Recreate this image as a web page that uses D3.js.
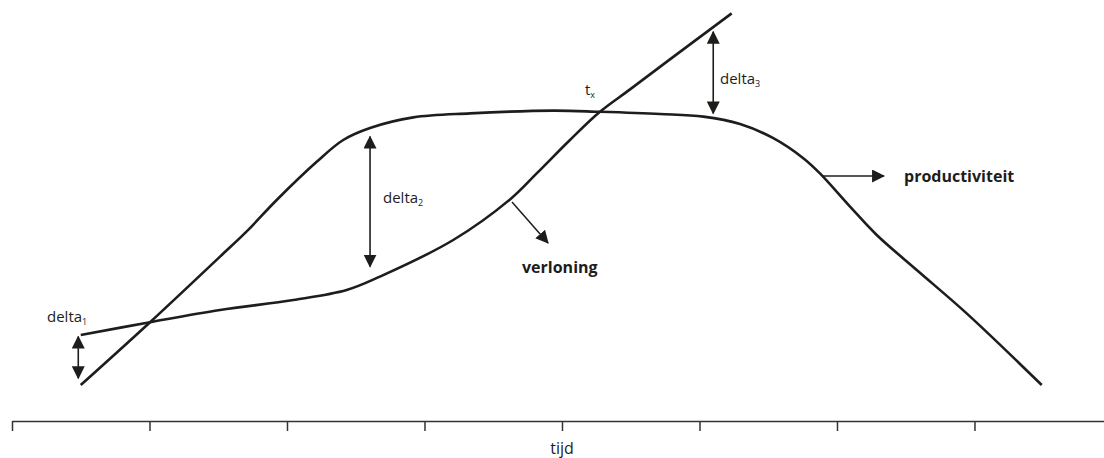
<!DOCTYPE html>
<html><head><meta charset="utf-8">
<script src="https://cdn.jsdelivr.net/npm/d3@7"></script>
<style>
html,body{margin:0;padding:0;background:#fff;}
svg{display:block;font-family:"Open Sans",sans-serif;}
</style></head>
<body><svg id="chart" width="1104" height="458"></svg>
<script>
// time axis ticks (tijd units)
const tickValues = [0,1,2,3,4,5,6,7];
const axisLabel = "tijd";

// productiviteit curve: time, value
const prodTime  = [0.50,1.004,1.513,1.707,1.925,2.216,2.409,2.604,2.919,3.331,3.937,4.276,4.713,5.028,5.295,5.537,5.755,5.876,6.095,6.289,6.580,6.943,7.489];
const prodValue = [9.0,24.7,41.1,47.4,55.25,64.8,70.25,73.25,75.9,76.9,77.6,77.3,76.75,76.1,74.25,70.7,65.7,61.9,53.6,46.5,37.75,26.9,9.0];

// verloning curve: time, value
const verlTime  = [0.50,1.004,1.513,2.046,2.434,2.676,3.209,3.622,3.816,4.058,4.276,4.495,4.785,5.234];
const verlValue = [21.5,24.7,27.75,30.25,32.75,36.1,45.25,55.4,61.9,70.25,77.3,82.9,90.4,101.9];

// delta double arrows: time, from value, to value
const deltaNames = ["delta","delta","delta"];
const deltaSubs  = ["1","2","3"];
const deltaTime  = [0.482,2.604,5.1];
const deltaTop   = [21.1,71.1,97.3];
const deltaBot   = [10.7,38.6,76.9];

// series labels
const seriesLabels = ["verloning","productiviteit"];

const svg = d3.select("#chart");
const x = d3.scaleLinear().domain([0, 7.942]).range([12, 1104]);
const y = d3.scaleLinear().domain([0, 100]).range([421, 21]);

const ink = "#1d1d1b";

// markers
const defs = svg.append("defs");
defs.append("marker").attr("id","head")
  .attr("viewBox","0 0 12 12").attr("refX",11).attr("refY",6)
  .attr("markerWidth",13).attr("markerHeight",13)
  .attr("markerUnits","userSpaceOnUse").attr("orient","auto-start-reverse")
  .append("path").attr("d","M0,0 L12,6 L0,12 Z").attr("fill",ink);

// axis
const axis = d3.axisBottom(x).tickValues(tickValues).tickSize(10).tickSizeOuter(0).tickFormat("");
const gA = svg.append("g").attr("transform", `translate(0,${y(0)})`).call(axis);
gA.select(".domain").attr("stroke", "#333").attr("stroke-width", 1.5);
gA.selectAll(".tick line").attr("stroke", "#333").attr("stroke-width", 1.5);

svg.append("text").attr("x", x(4)).attr("y", 454).attr("text-anchor","middle")
  .attr("font-size", 16).attr("fill", ink).text(axisLabel);

const line = d3.line().x(d => x(d[0])).y(d => y(d[1])).curve(d3.curveCatmullRom.alpha(0.5));

svg.append("path").datum(prodTime.map((t,i)=>[t, prodValue[i]]))
  .attr("d", line).attr("fill","none").attr("stroke", ink).attr("stroke-width", 2.6);
svg.append("path").datum(verlTime.map((t,i)=>[t, verlValue[i]]))
  .attr("d", line).attr("fill","none").attr("stroke", ink).attr("stroke-width", 2.6);

// delta arrows
deltaTime.forEach((t,i) => {
  svg.append("line")
    .attr("x1", x(t)).attr("x2", x(t)).attr("y1", y(deltaTop[i])).attr("y2", y(deltaBot[i]))
    .attr("stroke", ink).attr("stroke-width", 1.6)
    .attr("marker-start","url(#head)").attr("marker-end","url(#head)");
});

const labelPos = [[47, 322],[383, 203],[720, 84]];
deltaNames.forEach((n,i) => {
  const tx = svg.append("text").attr("x", labelPos[i][0]).attr("y", labelPos[i][1])
    .attr("font-size", 15).attr("fill", ink);
  tx.append("tspan").text(n);
  tx.append("tspan").attr("dy", 3).attr("font-size", 9).text(deltaSubs[i]);
});

// t_x
const tx = svg.append("text").attr("x", 585).attr("y", 95).attr("font-size", 15).attr("fill", ink);
tx.append("tspan").text("t");
tx.append("tspan").attr("dy", 3).attr("font-size", 9).text("x");

// series pointer arrows
svg.append("line").attr("x1", 512).attr("y1", 202).attr("x2", 548).attr("y2", 243)
  .attr("stroke", ink).attr("stroke-width", 1.5).attr("marker-end","url(#head)");
svg.append("line").attr("x1", 823).attr("y1", 176).attr("x2", 884).attr("y2", 176)
  .attr("stroke", ink).attr("stroke-width", 1.5).attr("marker-end","url(#head)");

svg.append("text").attr("x", 522).attr("y", 273).attr("font-size", 16).attr("font-weight","bold")
  .attr("fill", ink).text(seriesLabels[0]);
svg.append("text").attr("x", 904).attr("y", 182).attr("font-size", 16).attr("font-weight","bold")
  .attr("fill", ink).text(seriesLabels[1]);
</script></body></html>
